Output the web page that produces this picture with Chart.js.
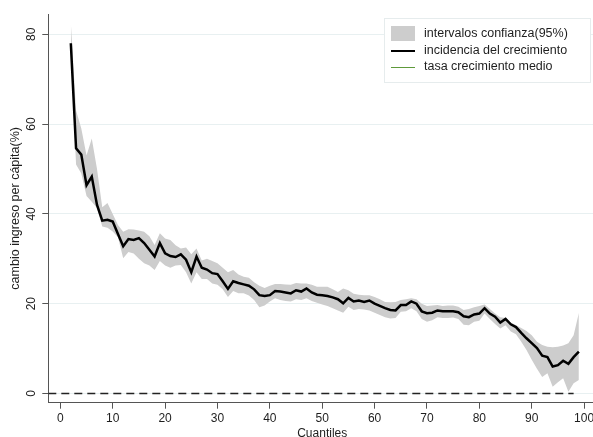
<!DOCTYPE html>
<html>
<head>
<meta charset="utf-8">
<script src="https://cdn.jsdelivr.net/npm/chart.js@4.4.0/dist/chart.umd.min.js"></script>
<style>
  html, body { margin: 0; padding: 0; background: #ffffff; }
  canvas { display: block; }
</style>
</head>
<body>
<canvas id="chart" width="593" height="437"></canvas>
<script>
// Growth incidence curve by income quantile, with 95% confidence band
const quantiles = [
  2, 3, 4, 5, 6, 7, 8, 9, 10, 11, 12, 13, 14, 15, 16, 17, 18, 19, 20, 21,
  22, 23, 24, 25, 26, 27, 28, 29, 30, 31, 32, 33, 34, 35, 36, 37, 38, 39, 40, 41,
  42, 43, 44, 45, 46, 47, 48, 49, 50, 51, 52, 53, 54, 55, 56, 57, 58, 59, 60, 61,
  62, 63, 64, 65, 66, 67, 68, 69, 70, 71, 72, 73, 74, 75, 76, 77, 78, 79, 80, 81,
  82, 83, 84, 85, 86, 87, 88, 89, 90, 91, 92, 93, 94, 95, 96, 97, 98, 99
];

const incidence = [
  78.0, 54.6, 53.2, 46.4, 48.3, 42.0, 38.5, 38.7, 38.3, 35.5, 32.8, 34.4, 34.2, 34.6, 33.5, 32.0, 30.5, 33.5, 31.2, 30.6,
  30.4, 31.0, 29.8, 27.0, 30.5, 28.0, 27.6, 26.8, 26.6, 25.0, 23.3, 25.0, 24.6, 24.3, 24.0, 23.2, 21.9, 21.7, 21.9, 22.8,
  22.7, 22.5, 22.3, 23.0, 22.7, 23.4, 22.5, 22.0, 21.9, 21.7, 21.4, 21.0, 20.1, 21.3, 20.5, 20.7, 20.4, 20.7, 20.0, 19.5,
  19.0, 18.6, 18.5, 19.7, 19.7, 20.5, 20.0, 18.3, 17.9, 18.0, 18.5, 18.3, 18.3, 18.3, 18.1, 17.2, 17.0, 17.6, 17.8, 19.0,
  17.8, 17.1, 15.8, 16.6, 15.4, 14.8, 13.5, 12.3, 11.2, 10.1, 8.4, 8.1, 6.0, 6.3, 7.3, 6.6, 8.1, 9.3
];

const ciUpper = [
  82.5, 63.0, 59.0, 53.0, 56.8, 50.0, 41.5, 42.4, 40.0, 37.5, 36.0, 36.6, 36.5, 36.3, 36.0, 35.0, 33.1, 35.7, 34.5, 34.2,
  33.0, 32.3, 32.5, 31.0, 32.3, 29.6, 30.0, 29.5, 29.0, 28.0, 27.0, 27.5, 26.5, 26.0, 25.8, 24.8, 24.0, 23.5, 24.0, 24.4,
  24.4, 24.3, 24.2, 24.6, 24.5, 24.5, 24.2, 23.8, 23.8, 23.8, 23.2, 22.6, 23.4, 23.0, 22.2, 22.0, 21.9, 21.9, 21.5, 21.0,
  20.4, 20.3, 20.4, 20.8, 21.0, 21.2, 21.0, 20.0, 19.5, 19.6, 19.7, 19.5, 19.6, 19.6, 19.3, 18.6, 18.8, 19.2, 19.5, 19.8,
  18.8, 17.8, 17.0, 16.8, 15.8, 15.2, 14.6, 13.9, 13.0, 11.5, 10.8, 10.4, 10.3, 10.4, 10.7, 11.2, 13.0, 17.9
];

const ciLower = [
  76.0, 51.0, 49.0, 44.0, 42.7, 41.3, 37.2, 36.9, 36.1, 34.8, 30.1, 31.5, 31.2, 30.0, 29.0, 28.5, 27.5, 29.5, 28.5, 28.0,
  28.5, 28.6, 27.0, 24.5, 27.0, 25.5, 25.5, 24.5, 24.2, 23.2, 21.5, 22.8, 22.3, 22.3, 21.8, 20.8, 19.2, 19.6, 20.5, 21.2,
  20.8, 20.6, 20.5, 21.0, 20.8, 21.2, 20.6, 20.2, 19.8, 19.5, 19.0, 18.5, 18.0, 19.3, 18.6, 18.8, 18.7, 18.5, 18.0, 17.5,
  17.0, 16.7, 16.8, 18.2, 18.3, 19.0, 18.3, 16.6, 16.0, 16.3, 17.0, 16.8, 16.8, 16.9, 16.6, 15.3, 15.2, 16.0, 16.2, 17.8,
  16.6, 15.5, 14.5, 15.2, 13.8, 13.2, 11.5, 9.7, 7.5, 5.5, 3.7, 4.5, 1.5, 2.5, 3.4, 0.4, 2.3, 3.0
];

// Horizontal reference at zero growth
const zeroLineX = [-2.3, 98];
const zeroLineY = [0, 0];

// Mean growth rate series (legend entry only)
const meanGrowth = [];

const xTicks = [0, 10, 20, 30, 40, 50, 60, 70, 80, 90, 100];
const yTicks = [0, 20, 40, 60, 80];

const legendLabels = ['intervalos confianza(95%)', 'incidencia del crecimiento', 'tasa crecimiento medio'];
const xTitle = 'Cuantiles';
const yTitle = 'cambio ingreso per cápita(%)';

const FONT = '"Liberation Sans", Arial, sans-serif';
const BAND = '#cdcdcd';
const AXIS = '#555555';
const GRID = '#e8f0f1';
const GREEN = '#5e9a3a';
const TEXT = '#1e1e1e';

const pts = (xs, ys) => xs.map((x, i) => ({ x: x, y: ys[i] }));

const decorations = {
  id: 'decorations',
  afterDraw(chart) {
    const ctx = chart.ctx;
    const ys = chart.scales.y;
    const xs = chart.scales.x;
    const area = chart.chartArea;
    ctx.save();
    ctx.fillStyle = TEXT;
    ctx.font = '12px ' + FONT;
    ctx.textAlign = 'center';
    ctx.textBaseline = 'middle';
    // rotated y tick labels
    ys.ticks.forEach(t => {
      const py = ys.getPixelForValue(t.value);
      ctx.save();
      ctx.translate(32, py);
      ctx.rotate(-Math.PI / 2);
      ctx.fillText(String(t.value), 0, 0);
      ctx.restore();
    });
    // y axis title
    ctx.save();
    ctx.font = '12.5px ' + FONT;
    ctx.translate(16, (area.top + area.bottom) / 2);
    ctx.rotate(-Math.PI / 2);
    ctx.fillText(yTitle, 0, 0);
    ctx.restore();
    // x axis title
    ctx.fillText(xTitle, xs.getPixelForValue(50), 433.5);

    // legend box
    const lx = 384, ly = 18, lw = 206, lh = 64;
    ctx.fillStyle = '#ffffff';
    ctx.fillRect(lx, ly, lw, lh);
    ctx.strokeStyle = '#e6eced';
    ctx.lineWidth = 1;
    ctx.strokeRect(lx + 0.5, ly + 0.5, lw, lh);
    const rows = [33.5, 50.5, 67];
    // band swatch
    ctx.fillStyle = BAND;
    ctx.fillRect(391, 26, 24, 15);
    // black line swatch
    ctx.strokeStyle = '#000000';
    ctx.lineWidth = 2;
    ctx.beginPath(); ctx.moveTo(391, rows[1] + 0.5); ctx.lineTo(415, rows[1] + 0.5); ctx.stroke();
    // green line swatch
    ctx.strokeStyle = GREEN;
    ctx.lineWidth = 1;
    ctx.beginPath(); ctx.moveTo(391, rows[2] + 0.5); ctx.lineTo(415, rows[2] + 0.5); ctx.stroke();
    ctx.fillStyle = TEXT;
    ctx.font = '12.5px ' + FONT;
    ctx.textAlign = 'left';
    legendLabels.forEach((s, i) => ctx.fillText(s, 424, rows[i]));
    ctx.restore();
  }
};

new Chart(document.getElementById('chart'), {
  type: 'line',
  data: {
    datasets: [
      {
        label: legendLabels[0],
        data: pts(quantiles, ciUpper),
        borderWidth: 0,
        borderColor: BAND,
        backgroundColor: BAND,
        pointRadius: 0,
        fill: '+1',
        order: 4
      },
      {
        label: 'ci_lower',
        data: pts(quantiles, ciLower),
        borderWidth: 0,
        borderColor: BAND,
        pointRadius: 0,
        fill: false,
        order: 4
      },
      {
        label: 'cero',
        data: pts(zeroLineX, zeroLineY),
        borderColor: '#222222',
        borderWidth: 1.5,
        borderDash: [8, 5],
        pointRadius: 0,
        fill: false,
        order: 2
      },
      {
        label: legendLabels[1],
        data: pts(quantiles, incidence),
        borderColor: '#000000',
        borderWidth: 2.5,
        pointRadius: 0,
        fill: false,
        order: 1
      },
      {
        label: legendLabels[2],
        data: meanGrowth,
        borderColor: GREEN,
        borderWidth: 1,
        pointRadius: 0,
        fill: false,
        order: 3
      }
    ]
  },
  options: {
    responsive: false,
    animation: false,
    devicePixelRatio: 1,
    layout: { padding: { top: 14, right: 0, left: 0, bottom: 0 } },
    elements: { line: { tension: 0 } },
    plugins: {
      legend: { display: false },
      tooltip: { enabled: false }
    },
    scales: {
      x: {
        type: 'linear',
        min: -2.3,
        max: 101.7,
        afterBuildTicks: s => { s.ticks = xTicks.map(v => ({ value: v })); },
        afterFit: s => { s.height = 34.3; s.paddingLeft = 0; s.paddingRight = 0; },
        border: { display: true, color: AXIS, width: 1 },
        grid: { display: true, drawOnChartArea: false, drawTicks: true, tickLength: 6, tickColor: AXIS },
        ticks: {
          autoSkip: false, maxRotation: 0, minRotation: 0, padding: 3,
          color: TEXT, font: { family: FONT, size: 12 }
        }
      },
      y: {
        type: 'linear',
        min: -2.05,
        max: 84.52,
        afterBuildTicks: s => { s.ticks = yTicks.map(v => ({ value: v })); },
        afterFit: s => { s.width = 48.3; s.paddingTop = 0; s.paddingBottom = 0; },
        border: { display: true, color: AXIS, width: 1 },
        grid: { display: true, color: GRID, lineWidth: 1, drawTicks: true, tickLength: 6, tickColor: AXIS },
        ticks: { display: false }
      }
    }
  },
  plugins: [decorations]
});
</script>
</body>
</html>
